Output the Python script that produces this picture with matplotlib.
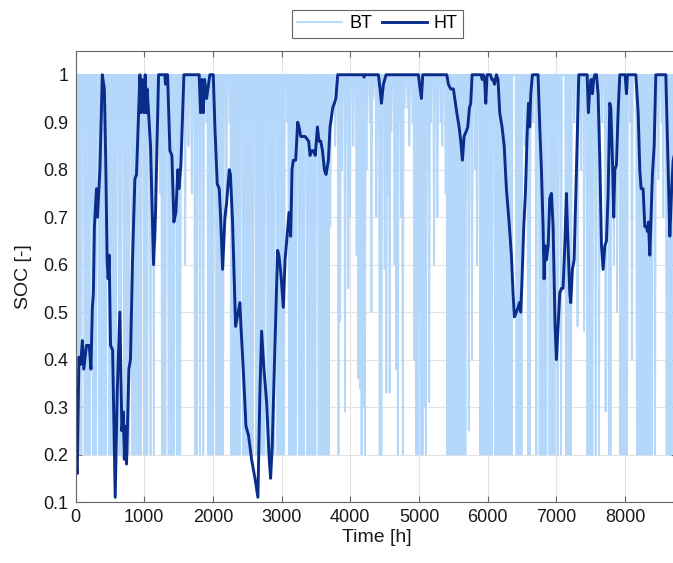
"""
SOC of the battery (BT) and the heat tank (HT) over one year
"""

import matplotlib
matplotlib.use('Agg')
import matplotlib.pyplot as plt
import numpy as np

# colours
BT_COLOR = '#B5D7FA'
HT_COLOR = '#0A2D8C'
AXIS_COLOR = '#666666'
GRID_COLOR = '#E3E3E3'
TEXT_COLOR = '#1A1A1A'

plt.rcParams['font.family'] = ['Liberation Sans', 'DejaVu Sans']
plt.rcParams['xtick.labelsize'] = 13
plt.rcParams['ytick.labelsize'] = 13

# BT: lowest SOC reached on each day of the year (1 = no discharge that day)
bt_day_min = [
    0.2, 0.2, 0.2, 0.2, 1, 0.2, 0.2, 0.2, 0.2, 0.7,
    0.2, 0.2, 0.2, 1, 0.2, 0.2, 0.2, 0.2, 0.2, 1,
    0.2, 0.2, 0.2, 0.2, 0.2, 1, 0.2, 0.2, 1, 0.2,
    0.2, 0.2, 0.2, 1, 0.2, 0.2, 0.2, 0.2, 0.2, 0.2,
    1, 0.2, 0.2, 0.2, 1, 0.2, 0.65, 0.2, 0.65, 1,
    1, 0.75, 0.2, 0.2, 0.2, 1, 0.2, 0.2, 0.2, 0.2,
    1, 0.2, 0.2, 0.2, 1, 0.9, 0.6, 1, 0.85, 1,
    0.75, 1, 0.2, 0.2, 1, 0.2, 1, 0.2, 1, 0.9,
    0.2, 0.2, 0.2, 0.2, 1, 0.2, 0.2, 0.2, 0.2, 0.2,
    1, 0.7, 1, 0.9, 0.2, 0.2, 0.2, 0.2, 0.2, 0.2,
    1, 0.2, 0.2, 0.2, 0.2, 0.2, 0.2, 0.2, 1, 0.2,
    0.2, 0.2, 0.2, 0.2, 0.2, 1, 0.2, 0.2, 0.2, 0.2,
    0.2, 1, 0.2, 0.2, 0.2, 0.2, 0.2, 1, 0.9, 0.2,
    0.2, 0.2, 0.2, 0.2, 1, 0.2, 0.2, 0.2, 0.2, 1,
    0.2, 0.2, 0.2, 0.2, 0.2, 0.2, 1, 0.2, 0.2, 0.2,
    0.2, 0.2, 0.2, 0.2, 0.68, 0.9, 1, 0.85, 1, 0.2,
    0.48, 0.8, 1, 0.29, 0.9, 0.55, 0.7, 1, 0.85, 1,
    0.62, 0.36, 0.34, 0.2, 0.3, 0.2, 0.8, 1, 0.9, 0.5,
    0.95, 1, 0.7, 1, 0.2, 0.2, 0.9, 0.59, 0.33, 0.75,
    0.33, 0.88, 1, 0.6, 0.38, 0.2, 0.9, 0.7, 0.2, 0.93,
    1, 0.93, 0.85, 1, 0.9, 0.4, 0.2, 0.2, 0.5, 0.2,
    0.2, 0.3, 0.2, 0.8, 0.31, 0.9, 1, 0.6, 0.95, 0.7,
    1, 0.9, 0.85, 1, 0.75, 0.2, 0.2, 0.2, 0.2, 0.2,
    0.2, 0.2, 0.2, 0.2, 0.2, 0.2, 0.2, 1, 0.25, 0.9,
    0.4, 1, 0.8, 0.6, 1, 0.2, 0.2, 0.2, 0.2, 0.2,
    0.2, 0.2, 0.2, 1, 0.2, 0.2, 0.2, 0.2, 0.2, 0.2,
    0.2, 0.2, 0.2, 0.2, 0.2, 1, 1, 0.2, 0.2, 0.2,
    0.2, 1, 0.85, 1, 0.2, 0.2, 1, 0.9, 1, 0.2,
    1, 0.2, 0.2, 0.2, 0.2, 0.2, 1, 0.2, 0.2, 0.2,
    0.2, 1, 0.2, 1, 0.2, 1, 1, 0.2, 0.2, 0.2,
    0.2, 1, 0.9, 1, 0.47, 1, 0.8, 1, 0.46, 1,
    0.2, 0.2, 0.2, 0.2, 1, 0.2, 0.8, 0.2, 1, 0.9,
    1, 0.29, 1, 0.2, 0.2, 1, 0.6, 1, 0.5, 1,
    0.2, 0.2, 0.2, 0.2, 0.2, 1, 0.9, 0.4, 1, 1,
    0.2, 0.2, 0.2, 0.2, 0.2, 0.2, 0.2, 0.2, 0.2, 0.2,
    1, 0.2, 1, 0.78, 1, 0.9, 0.7, 1, 0.2, 0.2,
    0.2, 0.2, 1, 1, 1,
]

# HT: SOC trace
ht_hours = [
    0, 25, 50, 75, 100, 120, 160, 200, 225, 245, 260, 275, 305, 320, 355,
    390, 420, 440, 460, 475, 490, 510, 540, 578, 607, 645, 675, 695, 710,
    723, 743, 777, 800, 830, 864, 888, 937, 950, 970, 995, 1015, 1030, 1043,
    1063, 1092, 1121, 1136, 1165, 1209, 1300, 1310, 1320, 1340, 1374, 1403,
    1432, 1461, 1490, 1505, 1534, 1578, 1800, 1820, 1840, 1860, 1879, 1908,
    1956, 2005, 2029, 2063, 2092, 2112, 2141, 2175, 2199, 2238, 2255, 2286,
    2330, 2393, 2408, 2442, 2481, 2519, 2563, 2612, 2655, 2684, 2709, 2743,
    2782, 2820, 2840, 2864, 2903, 2942, 2960, 2990, 3025, 3050, 3074, 3108,
    3132, 3152, 3171, 3205, 3234, 3254, 3278, 3317, 3341, 3394, 3414, 3438,
    3462, 3490, 3521, 3545, 3570, 3595, 3623, 3647, 3681, 3705, 3744, 3768,
    3790, 3817, 4190, 4200, 4215, 4409, 4433, 4453, 4482, 4521, 4991, 5016,
    5035, 5055, 5404, 5428, 5462, 5501, 5550, 5584, 5608, 5632, 5656, 5686,
    5710, 5734, 5753, 5773, 5904, 5920, 5935, 5955, 5972, 5991, 6040, 6060,
    6078, 6100, 6127, 6150, 6175, 6209, 6240, 6272, 6311, 6345, 6369, 6389,
    6418, 6442, 6462, 6481, 6500, 6525, 6549, 6573, 6593, 6612, 6627, 6651,
    6733, 6758, 6782, 6806, 6821, 6835, 6855, 6880, 6903, 6928, 6952, 6981,
    7000, 7025, 7049, 7073, 7097, 7122, 7146, 7165, 7195, 7209, 7233, 7258,
    7292, 7326, 7447, 7466, 7486, 7505, 7525, 7542, 7559, 7583, 7607, 7632,
    7656, 7680, 7705, 7729, 7753, 7777, 7792, 7816, 7835, 7850, 7874, 7898,
    7923, 8000, 8020, 8034, 8156, 8190, 8214, 8233, 8262, 8287, 8311, 8325,
    8340, 8360, 8384, 8398, 8423, 8447, 8593, 8612, 8636, 8651, 8675, 8700,
    8760,
]
ht_soc = [
    0.20, 0.16, 0.405, 0.39, 0.44, 0.38, 0.43, 0.43, 0.38, 0.51, 0.54, 0.68,
    0.76, 0.70, 0.80, 1.0, 0.97, 0.82, 0.61, 0.57, 0.62, 0.43, 0.42, 0.11,
    0.33, 0.50, 0.25, 0.29, 0.19, 0.26, 0.18, 0.38, 0.40, 0.61, 0.78, 0.79,
    1.0, 0.92, 0.99, 0.92, 1.0, 0.92, 0.97, 0.92, 0.85, 0.68, 0.60, 0.71,
    1.0, 1.0, 0.98, 1.0, 1.0, 0.84, 0.83, 0.69, 0.71, 0.80, 0.76, 0.81,
    1.0, 1.0, 0.92, 0.99, 0.92, 0.99, 0.95, 1.0, 1.0, 0.89, 0.77, 0.76,
    0.70, 0.59, 0.70, 0.73, 0.80, 0.79, 0.69, 0.47, 0.52, 0.47, 0.38, 0.26,
    0.24, 0.19, 0.15, 0.11, 0.33, 0.46, 0.38, 0.31, 0.19, 0.15, 0.22, 0.43,
    0.63, 0.62, 0.58, 0.51, 0.61, 0.65, 0.71, 0.66, 0.80, 0.82, 0.82, 0.90,
    0.89, 0.87, 0.87, 0.87, 0.86, 0.83, 0.84, 0.84, 0.83, 0.89, 0.86, 0.86,
    0.84, 0.80, 0.79, 0.82, 0.89, 0.93, 0.94, 0.95, 1.0, 1.0, 0.995, 1.0,
    1.0, 0.97, 0.94, 0.98, 1.0, 1.0, 0.97, 0.95, 1.0, 1.0, 0.98, 0.97,
    0.97, 0.92, 0.89, 0.86, 0.82, 0.87, 0.88, 0.89, 0.93, 0.94, 1.0, 1.0,
    0.99, 1.0, 0.99, 0.94, 1.0, 1.0, 0.99, 0.99, 0.98, 1.0, 0.99, 0.92,
    0.89, 0.85, 0.76, 0.69, 0.62, 0.54, 0.49, 0.50, 0.51, 0.52, 0.50, 0.57,
    0.68, 0.75, 0.87, 0.94, 0.89, 0.96, 1.0, 1.0, 0.89, 0.80, 0.68, 0.57,
    0.64, 0.61, 0.64, 0.74, 0.75, 0.68, 0.47, 0.40, 0.47, 0.54, 0.55, 0.55,
    0.64, 0.75, 0.66, 0.54, 0.52, 0.59, 0.61, 0.80, 1.0, 1.0, 0.92, 0.97,
    0.99, 0.96, 0.99, 1.0, 1.0, 0.96, 0.82, 0.64, 0.59, 0.64, 0.65, 0.75,
    0.94, 0.93, 0.82, 0.70, 0.80, 0.81, 0.92, 1.0, 1.0, 0.96, 1.0, 1.0,
    0.92, 0.80, 0.76, 0.76, 0.68, 0.68, 0.67, 0.69, 0.62, 0.73, 0.79, 0.85,
    1.0, 1.0, 0.89, 0.75, 0.66, 0.75, 0.82, 0.86,
]

x_ticks = [0, 1000, 2000, 3000, 4000, 5000, 6000, 7000, 8000]
y_ticks = [0.1, 0.2, 0.3, 0.4, 0.5, 0.6, 0.7, 0.8, 0.9, 1.0]
y_tick_labels = ['0.1', '0.2', '0.3', '0.4', '0.5', '0.6', '0.7', '0.8', '0.9', '1']

# BT series: full at the start of every day, daily minimum half a day later
n_days = len(bt_day_min)
bt_hours = np.arange(0, 24 * n_days + 1, 12)
bt_soc = np.ones(2 * n_days + 1)
bt_soc[1::2] = bt_day_min

fig = plt.figure(figsize=(6.73, 5.63), dpi=100)
ax = fig.add_axes([0.1122, 0.1083, 0.8942, 0.8011])

ax.plot(bt_hours, bt_soc, color=BT_COLOR, linewidth=1.3, label='BT')
ax.plot(ht_hours, ht_soc, color=HT_COLOR, linewidth=2.1, label='HT')

ax.set_xlim(0, 8760)
ax.set_ylim(0.1, 1.05)
ax.set_xticks(x_ticks)
ax.set_yticks(y_ticks)
ax.set_yticklabels(y_tick_labels)

ax.grid(True, color=GRID_COLOR, linewidth=0.8)
ax.set_axisbelow(True)
for side in ['top', 'bottom', 'left', 'right']:
    ax.spines[side].set_color(AXIS_COLOR)
    ax.spines[side].set_linewidth(0.8)
ax.tick_params(direction='in', top=True, right=True, length=4,
               color=AXIS_COLOR, labelcolor=TEXT_COLOR, pad=5)

ax.set_xlabel('Time [h]', fontsize=14, color=TEXT_COLOR, labelpad=2)
ax.set_ylabel('SOC [-]', fontsize=14, color=TEXT_COLOR, labelpad=8)

leg = fig.legend(loc='center', bbox_to_anchor=(0.561, 0.958), ncol=2,
                 fontsize=13, frameon=True, fancybox=False, framealpha=1,
                 edgecolor=AXIS_COLOR, handlelength=2.5, columnspacing=0.5,
                 handletextpad=0.4, borderpad=0.3, borderaxespad=0)
leg.get_frame().set_linewidth(0.8)

plt.savefig('out.png', dpi=100, facecolor='white')
plt.close()
